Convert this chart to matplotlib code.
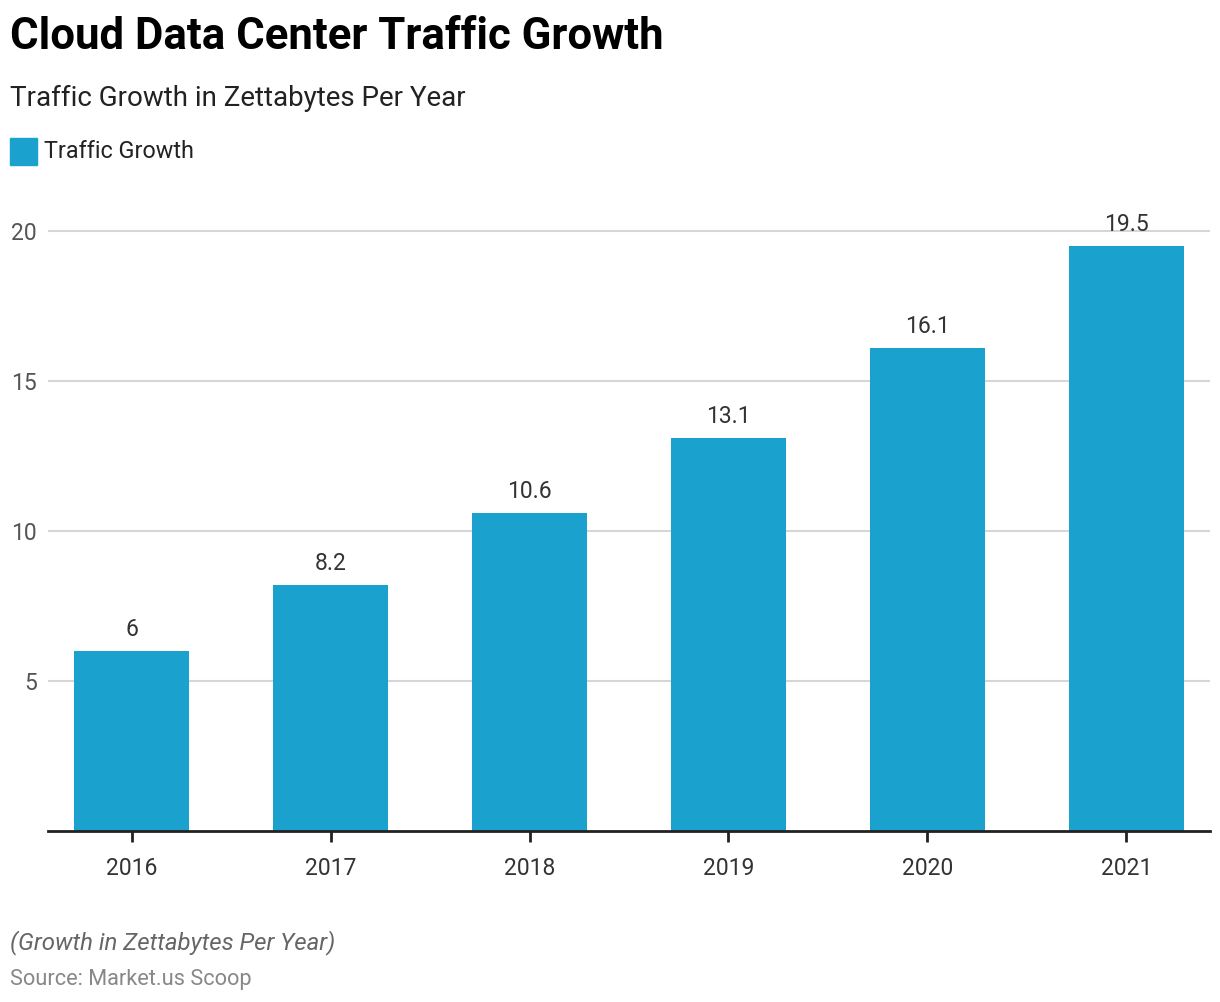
import matplotlib.pyplot as plt
import numpy as np

years = ['2016', '2017', '2018', '2019', '2020', '2021']
traffic = [6, 8.2, 10.6, 13.1, 16.1, 19.5]
value_labels = ['6', '8.2', '10.6', '13.1', '16.1', '19.5']
yticks = [5, 10, 15, 20]

bar_color = '#1aa1cd'
plt.rcParams['font.family'] = ['Roboto', 'DejaVu Sans']

fig = plt.figure(figsize=(12.2, 10.02), dpi=100)
ax = fig.add_axes([48/1220, 1-831/1002, (1210-48)/1220, 630/1002])

x = np.arange(len(years))
bars = ax.bar(x, traffic, width=0.58, color=bar_color, zorder=3)
for xi, v, lab in zip(x, traffic, value_labels):
    ax.annotate(lab, (xi, v), xytext=(0, 7), textcoords='offset points',
                ha='center', va='bottom', fontsize=16.5, color='#333333')

ax.set_xlim(-0.42, 5.42)
ax.set_ylim(0, 21)
ax.set_xticks(x)
ax.set_xticklabels(years, fontsize=16.5, color='#333333')
ax.set_yticks(yticks)
ax.set_yticklabels([str(t) for t in yticks], fontsize=16.5, color='#555555')
ax.tick_params(axis='x', direction='out', length=8, width=2, color='#222222', pad=11)
ax.tick_params(axis='y', length=0, pad=8)
ax.grid(axis='y', color='#d6d6d6', lw=1.5, zorder=0)
for s in ['top', 'right', 'left']:
    ax.spines[s].set_visible(False)
ax.spines['bottom'].set_color('#222222')
ax.spines['bottom'].set_linewidth(2)
ax.spines['bottom'].set_zorder(4)

fig.text(10/1220, 1-37/1002, 'Cloud Data Center Traffic Growth', fontsize=31.5,
         fontweight='bold', va='center', ha='left', color='#000000')
fig.text(10/1220, 1-98/1002, 'Traffic Growth in Zettabytes Per Year', fontsize=20,
         va='center', ha='left', color='#222222')
fig.patches.append(plt.Rectangle((10/1220, 1-165/1002), 27/1220, 27/1002,
                                 transform=fig.transFigure, color=bar_color))
fig.text(44/1220, 1-151/1002, 'Traffic Growth', fontsize=16.8,
         va='center', ha='left', color='#222222')
fig.text(10/1220, 1-943/1002, '(Growth in Zettabytes Per Year)', fontsize=17.3,
         style='italic', va='center', ha='left', color='#666666')
fig.text(10/1220, 1-979/1002, 'Source: Market.us Scoop', fontsize=15.7,
         va='center', ha='left', color='#888888')

fig.savefig('out.png', dpi=100)
